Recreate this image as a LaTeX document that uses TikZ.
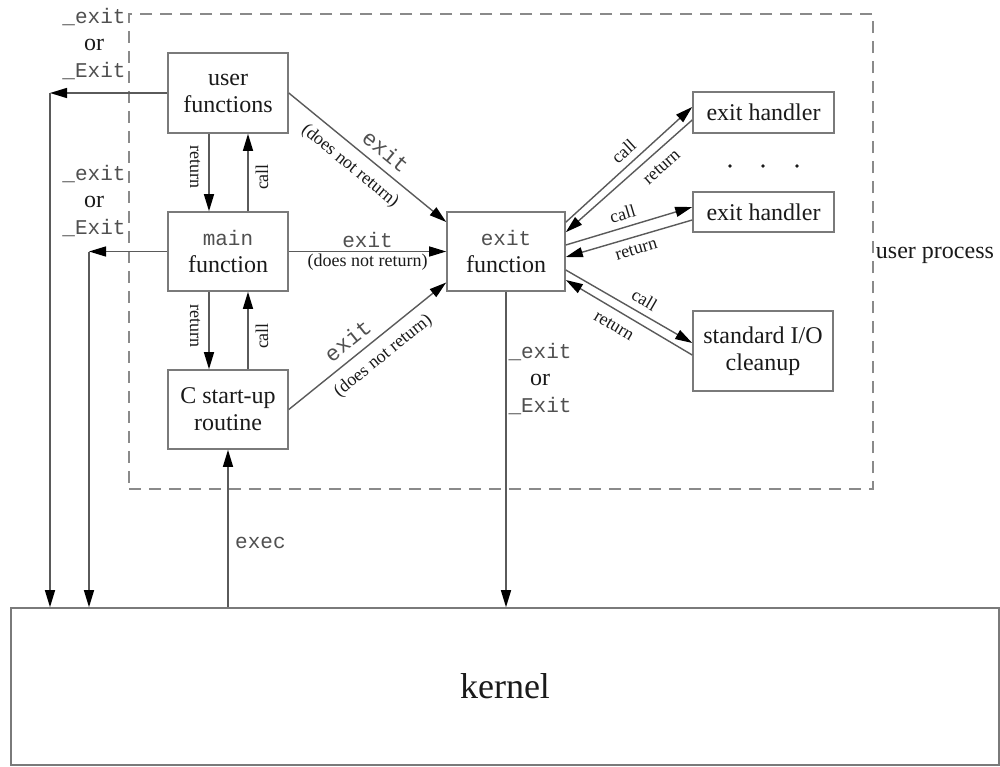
\documentclass[tikz,border=0pt]{standalone}
\usepackage{fontspec}
\setmainfont{Liberation Serif}
\setmonofont{Liberation Mono}
\usetikzlibrary{arrows.meta,calc}
\definecolor{boxgray}{HTML}{7A7A7A}
\definecolor{linegray}{HTML}{5A5A5A}
\definecolor{dashgray}{HTML}{8A8A8A}
\definecolor{txt}{HTML}{1A1A1A}
\definecolor{monotxt}{HTML}{505050}
\newcommand\myser{\fontsize{24}{27}\selectfont\rmfamily}
\newcommand\mymono{\fontsize{21}{27}\selectfont\ttfamily\color{monotxt}}
\newcommand\mydiag{\fontsize{22}{27}\selectfont\ttfamily\color{monotxt}}
\newcommand\mylab{\fontsize{18}{20}\selectfont\rmfamily}
\newcommand\mykern{\fontsize{36}{40}\selectfont\rmfamily}
\begin{document}
\begin{tikzpicture}[x=1pt,y=-1pt,
  box/.style={draw=boxgray,line width=1.6pt,inner sep=0pt,align=center,font=\myser,text=txt},
  procbox/.style={draw=dashgray,line width=1.5pt,dash pattern=on 12pt off 8pt,inner sep=0pt},
  arr/.style={draw=linegray,line width=1.4pt,-{Triangle[length=17pt,width=10pt,color=black]}},
  lab/.style={font=\mylab,text=txt,inner sep=2pt},
  slab/.style={font=\mylab,text=txt,inner sep=9pt},
  hlab/.style={font=\mylab,text=txt,inner sep=6.5pt},
  rlab/.style={font=\mylab,text=txt,inner sep=9pt},
  dlab/.style={font=\mydiag,inner sep=8pt},
  mlab/.style={font=\mymono,inner sep=3pt},
  exlab/.style={font=\myser,text=txt,align=center,inner sep=0pt}
]
\fill[white] (0,0) rectangle (1000,766);
\useasboundingbox (0,0) rectangle (1000,766);

% user process frame
\node[procbox,minimum width=744,minimum height=475] (up) at (501,251.5) {};
\node[anchor=west,font=\myser,text=txt,inner sep=2pt] (upl) at ([yshift=-4]up.east) {user process};

% boxes
\node[box,minimum width=120,minimum height=80] (uf) at (228,93) {user\\functions};
\node[box,minimum width=120,minimum height=79] (mf) at (228,251.5) {{\mymono main}\\function};
\node[box,minimum width=120,minimum height=79] (cs) at (228,409.5) {C start-up\\routine};
\node[box,minimum width=118,minimum height=79] (ef) at (506,251.5) {{\mymono exit}\\function};
\node[box,minimum width=141,minimum height=41] (eh1) at (763.5,112.5) {exit handler};
\node[box,minimum width=141,minimum height=40] (eh2) at (763.5,212) {exit handler};
\node[box,minimum width=140,minimum height=80] (sio) at (763,351) {standard I/O\\cleanup};
\node[box,minimum width=988,minimum height=157,font=\mykern] (k) at (505,686.5) {kernel};

% dots between handlers
\fill[txt] (730,166) circle (1.9);
\fill[txt] (763,166) circle (1.9);
\fill[txt] (797,166) circle (1.9);

% _exit / _Exit to kernel
\coordinate (c1) at (50,93);
\coordinate (c2) at (89,251.5);
\draw[arr] (uf.west) -- (c1);
\draw[arr] (c1) -- (c1 |- k.north);
\draw[arr] (mf.west) -- (c2);
\draw[arr] (c2) -- (c2 |- k.north);
\node[exlab] (x1) at (94,44) {{\mymono\_exit}\\or\\{\mymono\_Exit}};
\node[exlab] (x2) at (94,201) {{\mymono\_exit}\\or\\{\mymono\_Exit}};

% call / return between left boxes
\draw[arr] ([xshift=-19]uf.south) -- ([xshift=-19]mf.north)
  node[midway,xshift=-14,yshift=5.5,rotate=-90,lab] {return};
\draw[arr] ([xshift=20]mf.north) -- ([xshift=20]uf.south)
  node[midway,xshift=14,yshift=-4.5,rotate=90,lab] {call};
\draw[arr] ([xshift=-19]mf.south) -- ([xshift=-19]cs.north)
  node[midway,xshift=-14,yshift=4.5,rotate=-90,lab] {return};
\draw[arr] ([xshift=20]cs.north) -- ([xshift=20]mf.south)
  node[midway,xshift=14,yshift=-5.5,rotate=90,lab] {call};

% exit (does not return)
\draw[arr] (uf.east) -- ([yshift=29.5]ef.west)
  node[pos=0.55,sloped,above,dlab] {exit}
  node[pos=0.46,sloped,below,slab] {(does not return)};
\draw[arr] (mf.east) -- (ef.west)
  node[midway,above,mlab] {exit}
  node[midway,below,lab] {(does not return)};
\draw[arr] (cs.east) -- ([yshift=-31]ef.west)
  node[pos=0.44,sloped,above,dlab] {exit}
  node[pos=0.53,sloped,below,slab] {(does not return)};

% exit handlers
\draw[arr] ([yshift=-11]ef.north east) -- ([yshift=5.5]eh1.west)
  node[pos=0.53,sloped,above,hlab] {call};
\draw[arr] ([yshift=-7.5]eh1.west) -- ([yshift=-21]ef.north east)
  node[pos=0.32,sloped,below,rlab] {return};
\draw[arr] ([yshift=6.5]ef.east) -- ([yshift=5]eh2.west)
  node[pos=0.48,sloped,above,hlab] {call};
\draw[arr] ([yshift=-8]eh2.west) -- ([yshift=-5.5]ef.east)
  node[pos=0.47,sloped,below,hlab] {return};
\draw[arr] ([yshift=-18.5]ef.east) -- ([yshift=8]sio.west)
  node[pos=0.57,sloped,above,hlab] {call};
\draw[arr] ([yshift=-4]sio.west) -- ([yshift=-28.5]ef.east)
  node[pos=0.56,sloped,below,rlab] {return};

% exit function to kernel
\draw[arr] (ef.south) -- (ef.south |- k.north);
\node[exlab] (x3) at (540,379) {{\mymono\_exit}\\or\\{\mymono\_Exit}};

% exec
\draw[arr] (cs.south |- k.north) -- (cs.south);
\node[mlab,anchor=west] (ex) at (232,543) {exec};
\end{tikzpicture}
\end{document}
